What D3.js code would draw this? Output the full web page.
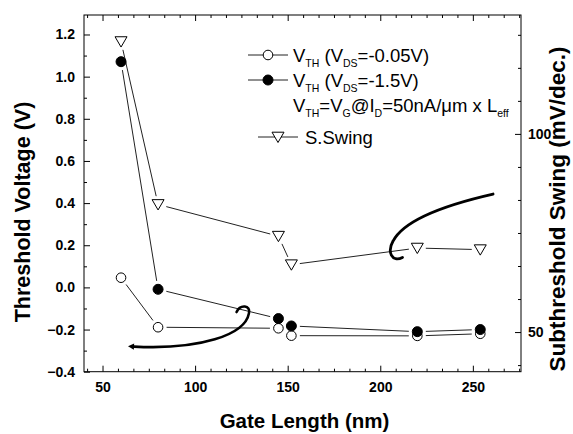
<!DOCTYPE html>
<html><head><meta charset="utf-8">
<script src="https://cdn.jsdelivr.net/npm/d3@7"></script>
<style>html,body{margin:0;padding:0;background:#fff;} svg{display:block;}</style>
</head><body>
<svg id="c" width="573" height="434"></svg>
<script>
// ---------- data ----------
const gateLength = [60, 80, 145, 152, 220, 254];
const vthLowVds  = [0.046, -0.189, -0.194, -0.229, -0.23, -0.22];
const vthHighVds = [1.071, -0.009, -0.148, -0.183, -0.21, -0.20];
const sSwing     = [123.3, 82.2, 74.2, 67.0, 71.2, 70.8];
const xTicks      = [50, 100, 150, 200, 250];
const yLeftTicks  = [-0.4, -0.2, 0.0, 0.2, 0.4, 0.6, 0.8, 1.0, 1.2];
const yRightTicks = [50, 100];
// annotation arrows (gate length, Vth) control points
const arrowA = [[122.4,-0.117],[124.3,-0.079],[130.2,-0.084],[129.1,-0.122],[127.0,-0.226],[102.6,-0.297],[67.0,-0.281]];
const arrowB = [[212.0,0.142],[206.3,0.116],[203.6,0.168],[206.9,0.220],[211.7,0.301],[227.9,0.377],[260.9,0.443]];

// ---------- layout ----------
const L = 84, R = 521, T = 15, B = 371.7;
const FONT = "'Liberation Sans', Arial, Helvetica, sans-serif";
const svg = d3.select("#c");

const x  = d3.scaleLinear().domain([40, 276]).range([L, R]);
const yL = d3.scaleLinear().domain([-0.4, 1.2925]).range([B, T]);
const yR = d3.scaleLinear().domain([40, 130]).range([B, T]);

const xMinor = d3.range(0, 29).map(i => 275 - i * 50/6).filter(v => v > 40 && v < 276 && Math.abs(v/50 - Math.round(v/50)) > 1e-6);
const yLMinor = d3.range(-3, 13, 2).map(i => i / 10);
const yRMinor = d3.range(-1, 11).map(i => 50 + i * 50/6).filter(v => v > 40 && v < 130 && Math.abs(v/50 - Math.round(v/50)) > 1e-6);

function styleAxis(g) {
  g.select(".domain").remove();
  g.selectAll(".tick line").attr("stroke", "#000").attr("stroke-width", 1);
  g.selectAll("text").attr("font-family", FONT).attr("font-weight", "bold")
    .attr("font-size", 14).attr("fill", "#000");
}

// bottom
svg.append("g").attr("transform", `translate(0,${B})`)
  .call(d3.axisBottom(x).tickValues(xTicks).tickSize(-6).tickPadding(10.5).tickFormat(d3.format("d")))
  .call(styleAxis);
svg.append("g").attr("transform", `translate(0,${B})`)
  .call(d3.axisBottom(x).tickValues(xMinor).tickSize(-3).tickFormat(""))
  .call(styleAxis);
// top
svg.append("g").attr("transform", `translate(0,${T})`)
  .call(d3.axisTop(x).tickValues(xTicks).tickSize(-6).tickFormat(""))
  .call(styleAxis);
svg.append("g").attr("transform", `translate(0,${T})`)
  .call(d3.axisTop(x).tickValues(xMinor).tickSize(-3).tickFormat(""))
  .call(styleAxis);
// left
svg.append("g").attr("transform", `translate(${L},0)`)
  .call(d3.axisLeft(yL).tickValues(yLeftTicks).tickSize(-6).tickPadding(9).tickFormat(d3.format(".1f")))
  .call(styleAxis);
svg.append("g").attr("transform", `translate(${L},0)`)
  .call(d3.axisLeft(yL).tickValues(yLMinor).tickSize(-3).tickFormat(""))
  .call(styleAxis);
// right
svg.append("g").attr("transform", `translate(${R},0)`)
  .call(d3.axisRight(yR).tickValues(yRightTicks).tickSize(-6).tickPadding(7).tickFormat(d3.format("d")))
  .call(styleAxis);
svg.append("g").attr("transform", `translate(${R},0)`)
  .call(d3.axisRight(yR).tickValues(yRMinor).tickSize(-3).tickFormat(""))
  .call(styleAxis);

// frame
svg.append("rect").attr("x", L).attr("y", T).attr("width", R - L).attr("height", B - T)
  .attr("fill", "none").attr("stroke", "#000").attr("stroke-width", 1);

// axis titles
svg.append("text").attr("x", (L + R) / 2 + 2).attr("y", 428)
  .attr("text-anchor", "middle").attr("font-family", FONT).attr("font-weight", "bold")
  .attr("font-size", 20.5).text("Gate Length (nm)");
svg.append("text").attr("transform", "translate(23,212) rotate(-90)")
  .attr("text-anchor", "middle").attr("dominant-baseline", "central").attr("font-family", FONT)
  .attr("font-weight", "bold").attr("font-size", 21.5).text("Threshold Voltage (V)");
svg.append("text").attr("transform", "translate(557,209) rotate(-90)")
  .attr("text-anchor", "middle").attr("dominant-baseline", "central").attr("font-family", FONT)
  .attr("font-weight", "bold").attr("font-size", 22.5).text("Subthreshold Swing (mV/dec.)");

// ---------- series ----------
const GAP = 8.5;
function gapLines(ys, yScale) {
  const pts = gateLength.map((g, i) => [x(g), yScale(ys[i])]);
  const g = svg.append("g");
  for (let i = 0; i < pts.length - 1; i++) {
    const [x0, y0] = pts[i], [x1, y1] = pts[i + 1];
    const d = Math.hypot(x1 - x0, y1 - y0);
    if (d <= 2 * GAP) continue;
    const ux = (x1 - x0) / d, uy = (y1 - y0) / d;
    g.append("line")
      .attr("x1", x0 + ux * GAP).attr("y1", y0 + uy * GAP)
      .attr("x2", x1 - ux * GAP).attr("y2", y1 - uy * GAP)
      .attr("stroke", "#222").attr("stroke-width", 1);
  }
}
gapLines(vthLowVds, yL);
gapLines(vthHighVds, yL);
gapLines(sSwing, yR);

function triPath(cx, cy) {
  return `M${cx - 6},${cy - 4.8}L${cx + 6},${cy - 4.8}L${cx},${cy + 5.5}Z`;
}

svg.append("g").selectAll("path").data(gateLength).join("path")
  .attr("d", (g, i) => triPath(x(g), yR(sSwing[i])))
  .attr("fill", "#fff").attr("stroke", "#000").attr("stroke-width", 1);
svg.append("g").selectAll("circle").data(gateLength).join("circle")
  .attr("cx", g => x(g)).attr("cy", (g, i) => yL(vthLowVds[i])).attr("r", 4.8)
  .attr("fill", "#fff").attr("stroke", "#000").attr("stroke-width", 1);
svg.append("g").selectAll("circle").data(gateLength).join("circle")
  .attr("cx", g => x(g)).attr("cy", (g, i) => yL(vthHighVds[i])).attr("r", 5)
  .attr("fill", "#000").attr("stroke", "#000").attr("stroke-width", 1);

// ---------- annotation arrows ----------
function curve(pts) {
  const p = pts.map(([a, b]) => [x(a), yL(b)]);
  const path = d3.path();
  path.moveTo(p[0][0], p[0][1]);
  path.bezierCurveTo(p[1][0], p[1][1], p[2][0], p[2][1], p[3][0], p[3][1]);
  path.bezierCurveTo(p[4][0], p[4][1], p[5][0], p[5][1], p[6][0], p[6][1]);
  return { d: path.toString(), p };
}
const cA = curve(arrowA);
svg.append("path").attr("d", cA.d).attr("fill", "none").attr("stroke", "#000")
  .attr("stroke-width", 2.6).attr("stroke-linecap", "round");
{
  const [ex, ey] = cA.p[6], [px, py] = cA.p[5];
  const d = Math.hypot(ex - px, ey - py), ux = (ex - px) / d, uy = (ey - py) / d;
  const tx = ex + ux * 6, ty = ey + uy * 6;
  svg.append("path")
    .attr("d", `M${tx},${ty}L${ex - uy * 3.2},${ey + ux * 3.2}L${ex + uy * 3.2},${ey - ux * 3.2}Z`)
    .attr("fill", "#000");
}
const cB = curve(arrowB);
svg.append("path").attr("d", cB.d).attr("fill", "none").attr("stroke", "#000")
  .attr("stroke-width", 2.8).attr("stroke-linecap", "round");

// ---------- legend ----------
const LF = 18.5, SF = 10.5;
function rich(xp, yp, parts) {
  const t = svg.append("text").attr("x", xp).attr("y", yp)
    .attr("font-family", FONT).attr("font-size", LF).attr("fill", "#000");
  let sub = false;
  parts.forEach(([s, isSub]) => {
    const ts = t.append("tspan").text(s);
    if (isSub && !sub) ts.attr("dy", 5).attr("font-size", SF);
    else if (isSub) ts.attr("font-size", SF);
    else if (!isSub && sub) ts.attr("dy", -5);
    sub = isSub;
  });
}
const leg = svg.append("g");
leg.append("line").attr("x1", 248).attr("x2", 288).attr("y1", 55).attr("y2", 55).attr("stroke", "#222");
leg.append("circle").attr("cx", 268).attr("cy", 55).attr("r", 4.8).attr("fill", "#fff").attr("stroke", "#000");
rich(293, 61.5, [["V"], ["TH", true], [" (V"], ["DS", true], ["=-0.05V)"]]);
leg.append("line").attr("x1", 248).attr("x2", 288).attr("y1", 80).attr("y2", 80).attr("stroke", "#222");
leg.append("circle").attr("cx", 268).attr("cy", 80).attr("r", 5).attr("fill", "#000").attr("stroke", "#000");
rich(293, 86.5, [["V"], ["TH", true], [" (V"], ["DS", true], ["=-1.5V)"]]);
rich(293, 111.5, [["V"], ["TH", true], ["=V"], ["G", true], ["@I"], ["D", true], ["=50nA/\u03bcm x L"], ["eff", true]]);
leg.append("line").attr("x1", 258).attr("x2", 298).attr("y1", 137).attr("y2", 137).attr("stroke", "#222");
leg.append("path").attr("d", triPath(278, 137)).attr("fill", "#fff").attr("stroke", "#000");
rich(305, 144, [["S.Swing"]]);
</script>
</body></html>
